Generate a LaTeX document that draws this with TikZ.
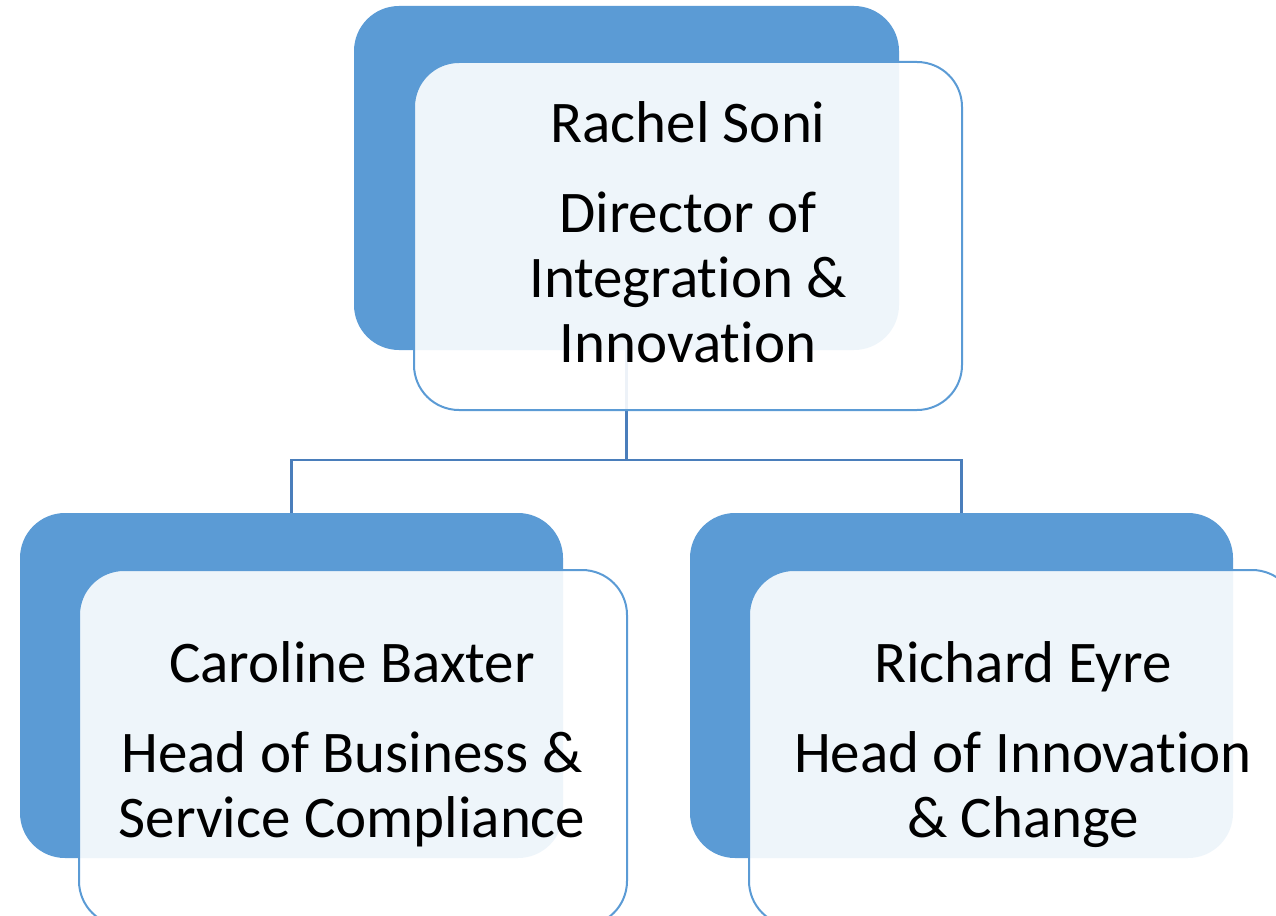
\documentclass[tikz,border=0pt]{standalone}
\usepackage{fontspec}
\setmainfont{Carlito}[Ligatures=NoCommon]
\definecolor{backblue}{HTML}{5B9BD5}
\definecolor{lineblue}{HTML}{4A7EBB}
\begin{document}
\begin{tikzpicture}[x=1pt,y=-1pt,
  backbox/.style={fill=backblue, draw=none, rounded corners=45pt, inner sep=0pt},
  frontbox/.style={fill=white, fill opacity=0.9, draw=backblue, line width=2pt, rounded corners=45pt, inner sep=0pt},
  label/.style={align=center, anchor=base, inner sep=0pt, text=black, font=\fontsize{59}{65}\selectfont},
  link/.style={draw=lineblue, line width=2.5pt}]
\useasboundingbox (0,0) rectangle (1276,915);
\clip (0,0) rectangle (1276,915);
% back boxes
\node[backbox, minimum width=545pt, minimum height=344pt] (tb) at (626.5,178) {};
\node[backbox, minimum width=543pt, minimum height=345pt] (lb) at (291.5,685.5) {};
\node[backbox, minimum width=543pt, minimum height=345pt] (rb) at (961.5,685.5) {};
% connectors
\coordinate (j) at (626.5,460);
\draw[link] (tb.south) -- (j);
\draw[link] (lb.north) |- (j) -| (rb.north);
% front boxes
\node[frontbox, minimum width=548pt, minimum height=348pt] (tf) at (688,236) {};
\node[frontbox, minimum width=548pt, minimum height=356pt] (lf) at (353,748) {};
\node[frontbox, minimum width=548pt, minimum height=356pt] (rf) at (1023,748) {};
% texts
\node[label] (tt) at (688,362) {Rachel Soni\\[25pt]Director of\\Integration \&\\Innovation};
\node[label] (lt) at (352,837) {Caroline Baxter\\[25pt]Head of Business \&\\Service Compliance};
\node[label] (rt) at (1023,837) {Richard Eyre\\[25pt]Head of Innovation\\\& Change};
\end{tikzpicture}
\end{document}
